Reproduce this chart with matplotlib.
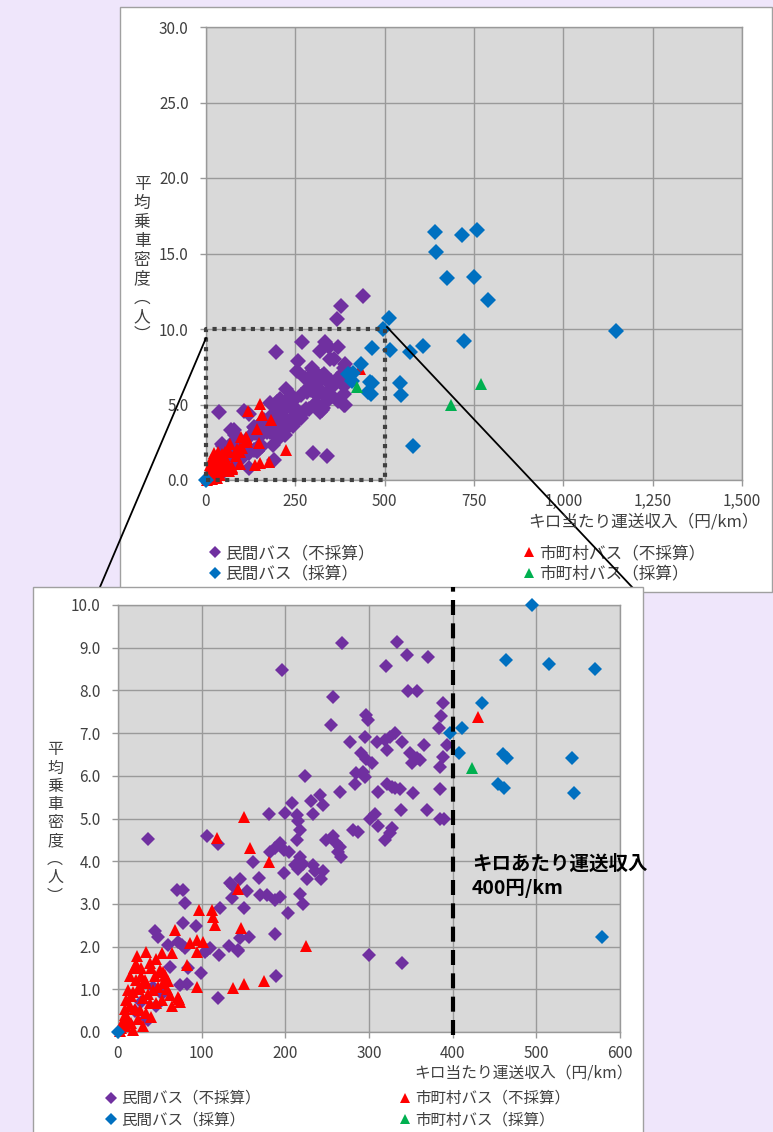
import matplotlib
matplotlib.use("Agg")
import matplotlib.pyplot as plt
import numpy as np
from matplotlib.lines import Line2D
from matplotlib.patches import Rectangle
from matplotlib.ticker import FuncFormatter, MultipleLocator

plt.rcParams['font.family'] = ['Noto Sans CJK JP', 'DejaVu Sans']

# ---------------- data ----------------
# 民間バス（不採算）
priv_loss_x = [438, 377, 368, 268, 334, 345, 370, 320, 196, 347, 357, 257, 389, 386, 384, 297, 299, 254,
               295, 277, 309, 319, 325, 331, 339, 321, 366, 393, 291, 297, 303, 349, 357, 351, 361, 388, 385,
               285, 293, 295, 283, 224, 265, 311, 321, 327, 331, 337, 352, 385, 338, 369, 301, 307, 311, 327,
               325, 319, 385, 390, 281, 287, 208, 200, 180, 214, 215, 218, 214, 231, 241, 245, 233, 249, 261,
               265, 263, 267, 257, 36, 106, 119, 182, 188, 194, 198, 204, 161, 217, 211, 215, 221, 233, 235,
               245, 198, 226, 243, 169, 146, 154, 170, 178, 188, 194, 217, 221, 203, 151, 136, 134, 137, 146,
               156, 188, 144, 189, 300, 339, 70, 78, 80, 44, 48, 78, 93, 60, 72, 76, 80, 62, 84, 99, 74, 82,
               106, 110, 104, 121, 120, 122, 133, 144, 36, 42, 52, 34, 20, 28, 12, 45]
priv_loss_y = [12.2, 11.55, 10.65, 9.12, 9.14, 8.82, 8.78, 8.56, 8.47, 7.99, 7.99, 7.85, 7.7, 7.4, 7.11, 7.42,
               7.31, 7.2, 6.9, 6.78, 6.78, 6.84, 6.92, 7.01, 6.78, 6.6, 6.71, 6.71, 6.53, 6.39, 6.29, 6.53,
               6.41, 6.31, 6.37, 6.45, 6.2, 6.06, 6.1, 5.98, 5.8, 6.0, 5.61, 5.61, 5.81, 5.74, 5.71, 5.69,
               5.59, 5.69, 5.2, 5.2, 5.0, 5.1, 4.82, 4.77, 4.65, 4.5, 5.0, 5.0, 4.73, 4.69, 5.37, 5.14, 5.1,
               5.08, 4.93, 4.73, 4.5, 5.41, 5.55, 5.32, 5.1, 4.5, 4.42, 4.34, 4.22, 4.11, 4.6, 4.53, 4.59, 4.4,
               4.22, 4.3, 4.42, 4.26, 4.22, 3.99, 4.1, 3.9, 3.82, 3.94, 3.9, 3.78, 3.78, 3.72, 3.58, 3.58, 3.6,
               3.58, 3.31, 3.2, 3.2, 3.08, 3.17, 3.23, 3.0, 2.79, 2.9, 3.13, 3.48, 3.43, 2.19, 2.22, 2.3, 1.9,
               1.3, 1.8, 1.61, 3.33, 3.33, 3.01, 2.37, 2.23, 2.55, 2.48, 2.04, 2.11, 2.04, 1.96, 1.53, 1.49,
               1.39, 1.1, 1.12, 1.92, 1.96, 1.88, 1.8, 0.79, 2.9, 2.01, 1.92, 0.28, 1.06, 0.9, 0.32, 0.5, 0.7,
               0.2, 0.6]

# 市町村バス（不採算）
muni_loss_x = [430, 150, 118, 158, 181, 144, 147, 225, 137, 150, 175, 97, 112, 114, 116, 68, 86, 94, 102, 94,
               52, 65, 34, 23, 83, 38, 94, 73, 19, 28, 50, 54, 56, 14, 22, 32, 12, 18, 26, 34, 42, 54, 62, 72,
               74, 52, 46, 38, 10, 14, 20, 26, 34, 40, 4, 6, 8, 10, 12, 16, 18, 2, 24, 30, 16, 24, 30, 36, 44,
               48, 58, 64, 28, 40, 22, 8, 60, 46]
muni_loss_y = [7.38, 5.04, 4.55, 4.32, 3.97, 3.35, 2.43, 2.01, 1.02, 1.12, 1.2, 2.86, 2.86, 2.7, 2.5, 2.4,
               2.08, 2.15, 2.11, 1.88, 1.84, 1.84, 1.88, 1.78, 1.57, 1.61, 1.05, 0.77, 1.49, 1.49, 1.45, 1.41,
               1.33, 1.3, 1.22, 1.22, 0.98, 0.94, 1.06, 1.14, 0.98, 1.14, 0.87, 0.83, 0.71, 0.75, 0.67, 0.67,
               0.75, 0.6, 0.55, 0.52, 0.44, 0.36, 0.1, 0.25, 0.4, 0.15, 0.3, 0.2, 0.05, 0.02, 0.3, 0.15, 0.85,
               1.0, 0.8, 0.9, 1.3, 1.05, 1.0, 0.6, 1.3, 1.5, 1.6, 0.55, 1.2, 1.7]

# 民間バス（採算）
priv_prof_x = [0, 495, 464, 515, 570, 435, 411, 397, 408, 460, 465, 543, 454, 461, 545, 578, 642, 717, 759,
               644, 674, 750, 790, 722, 513, 606, 1147]
priv_prof_y = [0.0, 10.0, 8.71, 8.62, 8.49, 7.7, 7.11, 7.01, 6.53, 6.51, 6.41, 6.41, 5.81, 5.71, 5.6, 2.23,
               16.4, 16.2, 16.56, 15.08, 13.36, 13.46, 11.92, 9.2, 10.71, 8.9, 9.87]

# 市町村バス（採算）
muni_prof_x = [423, 686, 770]
muni_prof_y = [6.18, 4.97, 6.36]

series_labels = ['民間バス（不採算）', '民間バス（採算）', '市町村バス（不採算）', '市町村バス（採算）']
x_label = 'キロ当たり運送収入（円/km）'
y_label = '平\n均\n乗\n車\n密\n度\n︵\n人\n︶'
note_text = 'キロあたり運送収入\n400円/km'
threshold = 400

# ---------------- styling ----------------
C_PURPLE = '#7030A0'
C_BLUE = '#0070C0'
C_RED = '#FF0000'
C_GREEN = '#00B050'
TXT = '#404040'

W, H = 773, 1132
fig = plt.figure(figsize=(W / 100, H / 100), dpi=100)
fig.patch.set_facecolor('#EFE6FB')


def fx(px):
    return px / W


def fy(py):
    return 1 - py / H


# panels
fig.add_artist(Rectangle((fx(120), fy(592)), (772 - 120) / W, (592 - 7) / H, transform=fig.transFigure,
                         facecolor='white', edgecolor='#A0A0A0', lw=1, zorder=-3))
fig.add_artist(Rectangle((fx(33), fy(1140)), (643 - 33) / W, (1140 - 587) / H, transform=fig.transFigure,
                         facecolor='white', edgecolor='#A0A0A0', lw=1, zorder=0))

ax1 = fig.add_axes([fx(206), fy(480), 536 / W, 453 / H])
ax2 = fig.add_axes([fx(118), fy(1032), 502 / W, 427 / H])
ax1.set_zorder(-2)
ax2.set_zorder(1)

# connection lines
fig.add_artist(Line2D([fx(206), fx(100)], [fy(338), fy(587)], transform=fig.transFigure,
                      color='black', lw=1.3, zorder=-1))
fig.add_artist(Line2D([fx(387), fx(632)], [fy(327), fy(587)], transform=fig.transFigure,
                      color='black', lw=1.3, zorder=-1))


def style(ax, xmax, xstep, ymax, ystep, xfmt, yfmt):
    ax.set_facecolor('#D9D9D9')
    ax.set_xlim(0, xmax)
    ax.set_ylim(0, ymax)
    ax.xaxis.set_major_locator(MultipleLocator(xstep))
    ax.yaxis.set_major_locator(MultipleLocator(ystep))
    ax.xaxis.set_major_formatter(FuncFormatter(xfmt))
    ax.yaxis.set_major_formatter(FuncFormatter(yfmt))
    ax.grid(True, color='#9A9A9A', lw=1.0)
    ax.set_axisbelow(True)
    for s in ax.spines.values():
        s.set_color('#999999')
        s.set_linewidth(1.0)
    ax.tick_params(axis='both', colors='#999999', labelcolor=TXT, labelsize=11, length=4, width=1)
    ax.tick_params(axis='x', pad=5)
    ax.tick_params(axis='y', pad=8.5)


style(ax1, 1500, 250, 30, 5, lambda v, p: f'{v:,.0f}', lambda v, p: f'{v:.1f}')
style(ax2, 600, 100, 10, 1, lambda v, p: f'{v:.0f}', lambda v, p: f'{v:.1f}')


def draw(ax, xlim, ylim, dms, tms):
    data = [
        (priv_loss_x, priv_loss_y, 'D', C_PURPLE, dms),
        (muni_loss_x, muni_loss_y, '^', C_RED, tms),
        (priv_prof_x, priv_prof_y, 'D', C_BLUE, dms),
        (muni_prof_x, muni_prof_y, '^', C_GREEN, tms),
    ]
    for xs, ys, m, c, ms in data:
        xs = np.asarray(xs, float)
        ys = np.asarray(ys, float)
        keep = (xs <= xlim) & (ys <= ylim)
        ax.plot(xs[keep], ys[keep], linestyle='none', marker=m, color=c, markersize=ms,
                markeredgewidth=0, clip_on=False, zorder=3)


draw(ax1, 1500, 30, 7.8, 9.0)
draw(ax2, 600, 10, 7.2, 8.4)

# dotted zoom box on top chart
ax1.plot([0, 500, 500, 0, 0], [0, 0, 10, 10, 0], color='#404040', lw=3.0,
         linestyle=(0, (1.0, 1.3)), dash_capstyle='butt', clip_on=False, zorder=4)

# threshold dashed line on bottom chart
ax2.axvline(threshold, ymin=-0.008, ymax=1.042, color='black', lw=3.0,
            linestyle=(0, (3.6, 2.0)), clip_on=False, zorder=4)
ax2.text(423, 4.16, note_text, fontsize=14, fontweight='bold', color='black', ha='left', va='top',
         linespacing=1.32, clip_on=False, zorder=5)

# axis labels
fig.text(fx(759), fy(522), x_label, fontsize=12, color=TXT, ha='right', va='center')
fig.text(fx(633), fy(1073), x_label, fontsize=11.3, color=TXT, ha='right', va='center')
fig.text(fx(142), fy(260), y_label, fontsize=12, color=TXT, ha='center', va='center', linespacing=1.15)
fig.text(fx(55), fy(823), y_label, fontsize=11.5, color=TXT, ha='center', va='center', linespacing=1.1)

# legends
h_pl = Line2D([], [], linestyle='none', marker='D', color=C_PURPLE, markersize=6.2, markeredgewidth=0)
h_pp = Line2D([], [], linestyle='none', marker='D', color=C_BLUE, markersize=6.2, markeredgewidth=0)
h_ml = Line2D([], [], linestyle='none', marker='^', color=C_RED, markersize=7.2, markeredgewidth=0)
h_mp = Line2D([], [], linestyle='none', marker='^', color=C_GREEN, markersize=7.2, markeredgewidth=0)


def legends(ax, xl, xr, ytop, fs, ls):
    kw = dict(loc='upper left', bbox_transform=fig.transFigure, frameon=False, fontsize=fs,
              handlelength=0.8, handletextpad=0.25, labelspacing=ls, borderpad=0, borderaxespad=0,
              labelcolor=TXT)
    l1 = ax.legend([h_pl, h_pp], series_labels[:2], bbox_to_anchor=(fx(xl), fy(ytop)), **kw)
    ax.add_artist(l1)
    ax.legend([h_ml, h_mp], series_labels[2:], bbox_to_anchor=(fx(xr), fy(ytop)), **kw)


legends(ax1, 208, 522, 545, 12, 0.22)
legends(ax2, 105, 399, 1090, 11.2, 0.28)

fig.savefig('out.png', dpi=100, facecolor=fig.get_facecolor())
